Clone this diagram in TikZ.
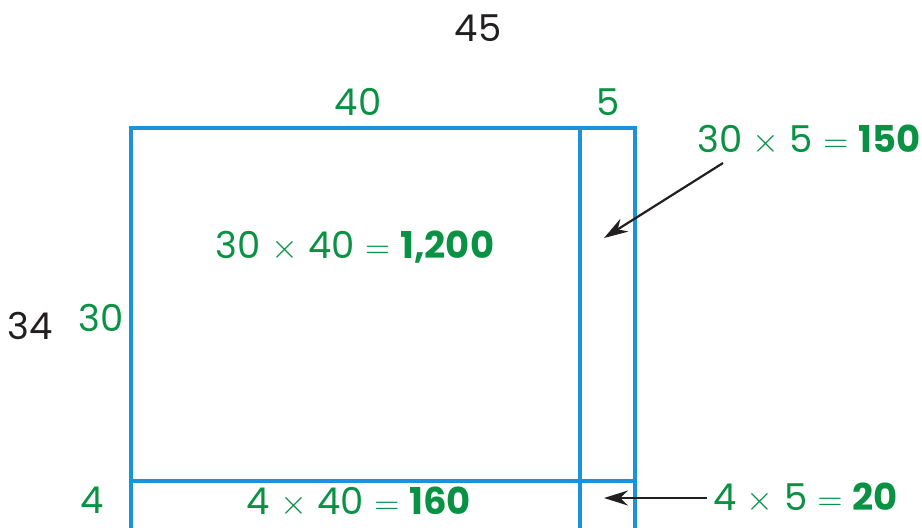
\documentclass[tikz,border=0pt]{standalone}
\usepackage{fontspec}
\setmainfont{Poppins}
\usetikzlibrary{arrows.meta}
\definecolor{lcol}{HTML}{1B93DA}
\definecolor{tcol}{HTML}{0A9244}
\definecolor{kcol}{HTML}{231F20}
\newcommand{\tms}{\;$\times$\;}
\newcommand{\eqs}{\;$=$\;}

\begin{document}
\begin{tikzpicture}[x=0.5pt,y=-0.5pt,>={Stealth[length=12pt,width=7.5pt]},
  grid/.style={draw=lcol,line width=1.6pt},
  num/.style={font=\fontsize{18.5}{22}\selectfont,text=tcol,inner sep=0pt},
  dim/.style={font=\fontsize{18.5}{22}\selectfont,text=kcol,inner sep=0pt},
  pointer/.style={->,kcol,line width=1.1pt}]
\useasboundingbox (0,0) rectangle (922,527);
\clip (0,0) rectangle (922,527);
% area model
\coordinate (nw) at (131,128);
\coordinate (se) at (635,540);
\draw[grid] (nw) rectangle (se);
\draw[grid] (580,128) -- (580,540);
\draw[grid] (131,481) -- (635,481);
% side lengths
\node[dim] (top) at (478,28) {45};
\node[dim] (side) at (30,326) {34};
\node[num] (tens) at (358,102) {40};
\node[num] (ones) at (608,102) {5};
\node[num] (rtens) at (101,318) {30};
\node[num] (rones) at (92,500) {4};
% partial products
\node[num] (big) at (355,247) {30\tms40\eqs\textbf{1,200}};
\node[num] (low) at (359,502) {4\tms40\eqs\textbf{160}};
\node[num,anchor=east] (upr) at (921,140) {30\tms5\eqs\textbf{150}};
\node[num,anchor=west] (lwr) at (713,498) {4\tms5\eqs\textbf{20}};
% pointers into the thin column
\coordinate (uptail) at (723,163);
\coordinate (lwtail) at (707,498);
\coordinate (upin) at (604,238);
\coordinate (lwin) at (604,498);
\draw[pointer] (uptail) -- (upin);
\draw[pointer] (lwtail) -- (lwin);
\end{tikzpicture}
\end{document}
